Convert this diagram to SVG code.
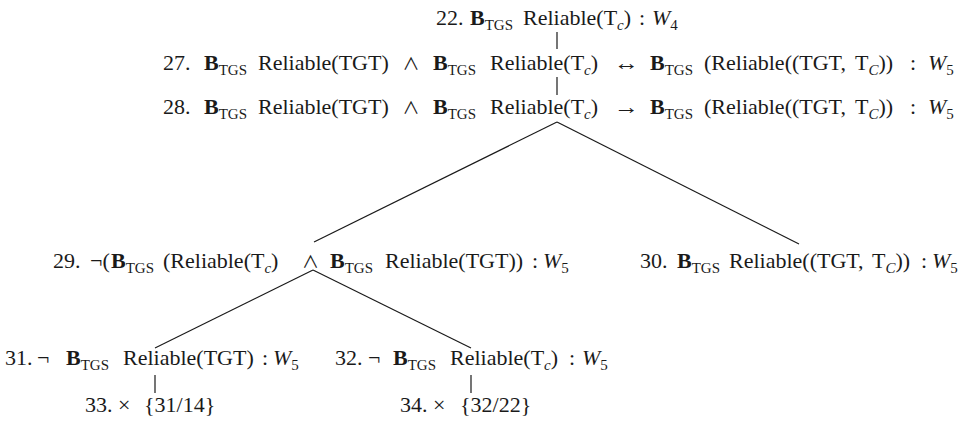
<svg xmlns="http://www.w3.org/2000/svg" width="964" height="422" viewBox="0 0 964 422">
  <style>
    .t { font-family: "Liberation Serif", "DejaVu Serif", serif; font-size: 22px; fill: #1a1a1a; }
    .b { font-weight: bold; }
    .s { font-size: 15px; }
    .i { font-style: italic; }
    .op { font-family: "Noto Sans CJK JP", "DejaVu Serif", sans-serif; font-size: 17px; fill: #1a1a1a; }
    .arr { font-family: "Liberation Serif", "DejaVu Serif", serif; font-size: 22px; fill: #1a1a1a; }
    .edge { stroke: #1a1a1a; stroke-width: 1.2; fill: none; }
  </style>
  <rect width="964" height="422" fill="#ffffff"/>

  <!-- tree edges -->
  <g id="connectors">
    <line class="edge" x1="557" y1="32" x2="557" y2="49"/>
    <line class="edge" x1="557" y1="77" x2="557" y2="95"/>
    <line class="edge" x1="557" y1="122" x2="314" y2="242"/>
    <line class="edge" x1="557" y1="122" x2="799" y2="244"/>
    <line class="edge" x1="313" y1="270" x2="155" y2="348"/>
    <line class="edge" x1="313" y1="270" x2="471" y2="348"/>
    <line class="edge" x1="155" y1="375" x2="155" y2="393"/>
    <line class="edge" x1="471" y1="375" x2="471" y2="393"/>
  </g>

  <g id="n22">
    <text class="t"><tspan x="436" y="25">22.</tspan><tspan x="470" class="b">B</tspan><tspan class="s" y="30">TGS</tspan><tspan x="523" y="25">Reliable(T</tspan><tspan class="s i" y="30">c</tspan><tspan y="25">)</tspan><tspan x="639">:</tspan><tspan x="652" class="i">W</tspan><tspan class="s" y="30">4</tspan></text>
  </g>

  <g id="n27">
    <text class="t"><tspan x="163" y="70">27.</tspan><tspan x="204" class="b">B</tspan><tspan class="s" y="75">TGS</tspan><tspan x="258" y="70">Reliable(TGT)</tspan><tspan x="433" class="b">B</tspan><tspan class="s" y="75">TGS</tspan><tspan x="490" y="70">Reliable(T</tspan><tspan class="s i" y="75">c</tspan><tspan y="70">)</tspan><tspan x="650" class="b">B</tspan><tspan class="s" y="75">TGS</tspan><tspan x="704" y="70">(Reliable((TGT,</tspan><tspan x="855">T</tspan><tspan class="s i" y="75">C</tspan><tspan y="70">))</tspan><tspan x="910">:</tspan><tspan x="928" class="i">W</tspan><tspan class="s" y="75">5</tspan></text>
    <text class="op" x="402.5" y="70">∧</text>
    <text class="arr" x="614" y="70" textLength="25" lengthAdjust="spacingAndGlyphs">↔</text>
  </g>

  <g id="n28">
    <text class="t"><tspan x="163" y="114">28.</tspan><tspan x="204" class="b">B</tspan><tspan class="s" y="119">TGS</tspan><tspan x="258" y="114">Reliable(TGT)</tspan><tspan x="433" class="b">B</tspan><tspan class="s" y="119">TGS</tspan><tspan x="490" y="114">Reliable(T</tspan><tspan class="s i" y="119">c</tspan><tspan y="114">)</tspan><tspan x="650" class="b">B</tspan><tspan class="s" y="119">TGS</tspan><tspan x="704" y="114">(Reliable((TGT,</tspan><tspan x="855">T</tspan><tspan class="s i" y="119">C</tspan><tspan y="114">))</tspan><tspan x="910">:</tspan><tspan x="928" class="i">W</tspan><tspan class="s" y="119">5</tspan></text>
    <text class="op" x="402.5" y="114">∧</text>
    <text class="arr" x="614" y="114" textLength="25" lengthAdjust="spacingAndGlyphs">→</text>
  </g>

  <g id="n29">
    <text class="t"><tspan x="53" y="268">29.</tspan><tspan x="90">¬(</tspan><tspan x="111" class="b">B</tspan><tspan class="s" y="273">TGS</tspan><tspan x="163" y="268">(Reliable(T</tspan><tspan class="s i" y="273">c</tspan><tspan y="268">)</tspan><tspan x="330" class="b">B</tspan><tspan class="s" y="273">TGS</tspan><tspan x="385" y="268">Reliable(TGT))</tspan><tspan x="532">:</tspan><tspan x="543" class="i">W</tspan><tspan class="s" y="273">5</tspan></text>
    <text class="op" x="302" y="268">∧</text>
  </g>

  <g id="n30">
    <text class="t"><tspan x="640" y="268">30.</tspan><tspan x="677" class="b">B</tspan><tspan class="s" y="273">TGS</tspan><tspan x="729" y="268">Reliable((TGT,</tspan><tspan x="872">T</tspan><tspan class="s i" y="273">C</tspan><tspan y="268">))</tspan><tspan x="921">:</tspan><tspan x="932" class="i">W</tspan><tspan class="s" y="273">5</tspan></text>
  </g>

  <g id="n31">
    <text class="t"><tspan x="5" y="365">31.</tspan><tspan x="37">¬</tspan><tspan x="66" class="b">B</tspan><tspan class="s" y="370">TGS</tspan><tspan x="123" y="365">Reliable(TGT)</tspan><tspan x="262">:</tspan><tspan x="273" class="i">W</tspan><tspan class="s" y="370">5</tspan></text>
  </g>

  <g id="n32">
    <text class="t"><tspan x="335" y="365">32.</tspan><tspan x="368">¬</tspan><tspan x="393" class="b">B</tspan><tspan class="s" y="370">TGS</tspan><tspan x="450" y="365">Reliable(T</tspan><tspan class="s i" y="370">c</tspan><tspan y="365">)</tspan><tspan x="569">:</tspan><tspan x="582" class="i">W</tspan><tspan class="s" y="370">5</tspan></text>
  </g>

  <g id="n33">
    <text class="t"><tspan x="85" y="412">33.</tspan><tspan x="118">×</tspan><tspan x="144">{31/14}</tspan></text>
  </g>

  <g id="n34">
    <text class="t"><tspan x="400" y="412">34.</tspan><tspan x="433">×</tspan><tspan x="460">{32/22}</tspan></text>
  </g>
</svg>
